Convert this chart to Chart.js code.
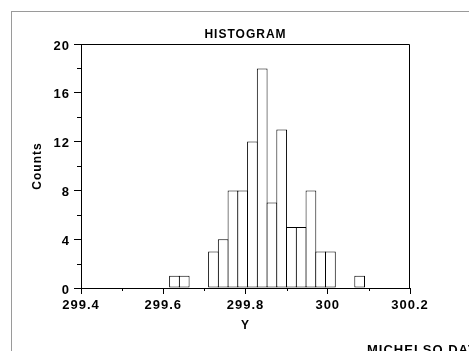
<!DOCTYPE html>
<html><head><meta charset="utf-8">
<script src="https://cdn.jsdelivr.net/npm/chart.js@4"></script>
<style>
html,body{margin:0;padding:0;width:469px;height:351px;overflow:hidden;background:#fff}
#wrap{position:relative;width:469px;height:351px;overflow:hidden}
#frame{position:absolute;left:11px;top:11px;right:-2px;bottom:-2px;border-left:1px solid #9a9a9a;border-top:1px solid #9a9a9a}
canvas{position:absolute;left:0;top:0}
#foot{position:absolute;left:367px;top:343px;font:bold 13px 'Liberation Sans',Arial,sans-serif;letter-spacing:1px;white-space:nowrap;line-height:13px;color:#000}
</style></head><body>
<div id="wrap"><div id="frame"></div><canvas id="c" width="469" height="351"></canvas><div id="foot">MICHELSO.DAT</div></div>
<script>
// Bin centers (Y values) and counts
const binCenters = [299.6273, 299.6510, 299.6747, 299.6984, 299.7221, 299.7458, 299.7695, 299.7932, 299.8169, 299.8406,
                    299.8643, 299.8880, 299.9117, 299.9354, 299.9591, 299.9828, 300.0065, 300.0302, 300.0539, 300.0776];
const counts = [1, 1, 0, 0, 3, 4, 8, 8, 12, 18, 7, 13, 5, 5, 8, 3, 3, 0, 0, 1];
const xTickValues = [299.4, 299.6, 299.8, 300, 300.2];
const xTickLabels = ['299.4', '299.6', '299.8', '300', '300.2'];
const xMinorTicks = [299.5, 299.7, 299.9, 300.1];
const yTickValues = [0, 4, 8, 12, 16, 20];
const yTickLabels = ['0', '4', '8', '12', '16', '20'];
const yMinorTicks = [2, 6, 10, 14, 18];

const FONT = "'Liberation Sans', Arial, Helvetica, sans-serif";

const framePlugin = {
  id: 'frameTicks',
  beforeUpdate(c) { c.ctx.letterSpacing = '1px'; },
  beforeLayout(c) { c.ctx.letterSpacing = '1px'; },
  beforeDraw(c) { c.ctx.letterSpacing = '1px'; },
  afterDraw(c) {
    const { ctx, chartArea: a, scales } = c;
    const x = scales.x, y = scales.y;
    ctx.save();
    ctx.strokeStyle = '#000';
    ctx.lineWidth = 1;
    ctx.beginPath();
    const top = Math.round(a.top) + 0.5, right = Math.round(a.right) - 0.5;
    ctx.moveTo(a.left, top); ctx.lineTo(right, top); ctx.lineTo(right, a.bottom);
    xMinorTicks.forEach(v => {
      const px = Math.round(x.getPixelForValue(v)) + 0.5;
      ctx.moveTo(px, a.bottom); ctx.lineTo(px, a.bottom + 3);
    });
    yMinorTicks.forEach(v => {
      const py = Math.round(y.getPixelForValue(v)) + 0.5;
      ctx.moveTo(a.left, py); ctx.lineTo(a.left - 4, py);
    });
    ctx.stroke();
    ctx.restore();
  }
};

new Chart(document.getElementById('c'), {
  type: 'bar',
  data: {
    datasets: [{
      data: binCenters.map((v, i) => ({ x: v, y: counts[i] })),
      backgroundColor: '#fff',
      borderColor: '#000',
      borderWidth: 1,
      borderSkipped: false,
      barPercentage: 1.1,
      categoryPercentage: 1,
      inflateAmount: 0
    }]
  },
  options: {
    responsive: false,
    animation: false,
    devicePixelRatio: 1,
    layout: { padding: { left: 0, top: 0, right: 59, bottom: 0 } },
    plugins: {
      legend: { display: false },
      tooltip: { enabled: false },
      title: {
        display: true, text: 'HISTOGRAM', color: '#000', fullSize: false,
        font: { family: FONT, size: 12, weight: 'bold', lineHeight: 1.2 },
        padding: { top: 27.3, bottom: 2.3 }
      }
    },
    scales: {
      x: {
        type: 'linear', min: 299.4, max: 300.2, offset: false,
        afterFit(s) { s.height = 63; },
        afterBuildTicks(s) { s.ticks = xTickValues.map(v => ({ value: v })); },
        grid: { drawOnChartArea: false, offset: false, tickLength: 6, color: '#000', tickColor: '#000' },
        border: { color: '#000', width: 1 },
        ticks: {
          color: '#000', padding: 4, maxRotation: 0, autoSkip: false,
          font: { family: FONT, size: 13, weight: 'bold' },
          callback: (v, i) => xTickLabels[i]
        },
        title: {
          display: true, text: 'Y', color: '#000',
          font: { family: FONT, size: 12, weight: 'bold', lineHeight: 1.2 },
          padding: { top: 0, bottom: 18.5 }
        }
      },
      y: {
        min: 0, max: 20,
        afterFit(s) { s.width = 81; },
        afterBuildTicks(s) { s.ticks = yTickValues.map(v => ({ value: v })); },
        grid: { drawOnChartArea: false, tickLength: 7, color: '#000', tickColor: '#000' },
        border: { color: '#000', width: 1 },
        ticks: {
          color: '#000', padding: 4, labelOffset: 2, autoSkip: false,
          font: { family: FONT, size: 13, weight: 'bold' },
          callback: (v, i) => yTickLabels[i]
        },
        title: {
          display: true, text: 'Counts', color: '#000',
          font: { family: FONT, size: 12, weight: 'bold', lineHeight: 1.2 },
          padding: { top: 30, bottom: 0 }
        }
      }
    }
  },
  plugins: [framePlugin]
});
</script>
</body></html>
